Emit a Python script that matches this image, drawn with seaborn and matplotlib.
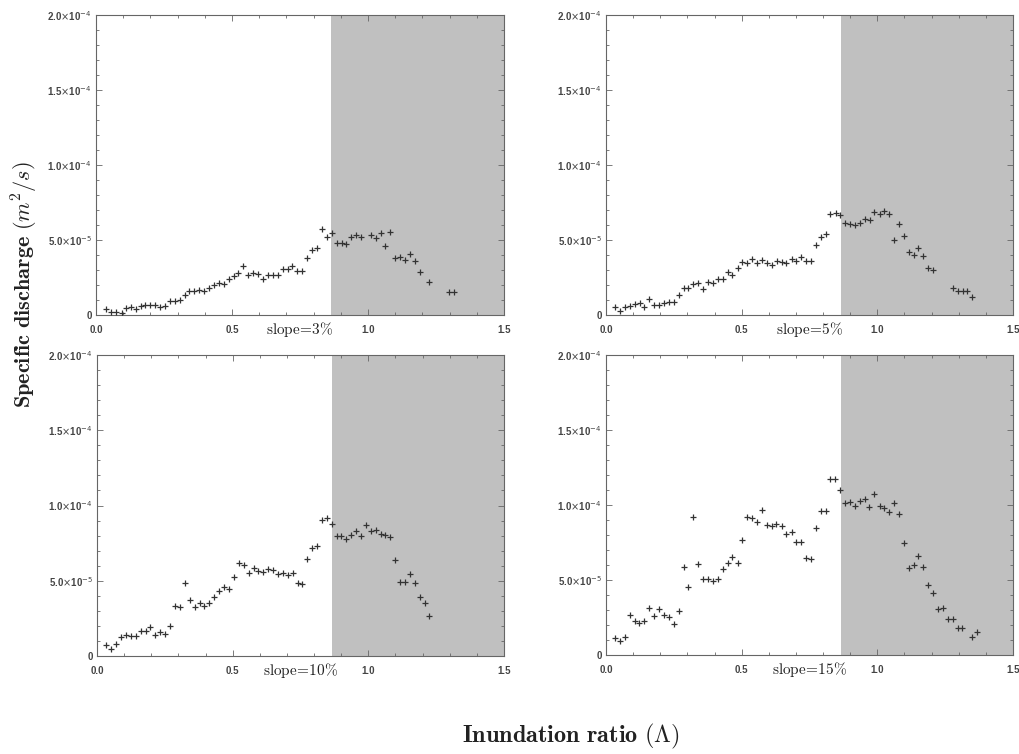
import numpy as np
import pandas as pd
import seaborn as sns
import matplotlib.pyplot as plt
from matplotlib.ticker import MultipleLocator

# values; discharge in units of 1e-5 m^2/s
x_s3 = [0.037, 0.055, 0.074, 0.094, 0.110, 0.129, 0.146, 0.164, 0.181, 0.199, 0.217, 0.235,
        0.254, 0.271, 0.289, 0.308, 0.326, 0.343, 0.362, 0.380, 0.397, 0.415, 0.434, 0.452,
        0.469, 0.488, 0.506, 0.523, 0.542, 0.560, 0.578, 0.597, 0.614, 0.632, 0.651, 0.669,
        0.686, 0.705, 0.722, 0.740, 0.757, 0.776, 0.794, 0.812, 0.830, 0.848, 0.866, 0.885,
        0.903, 0.920, 0.939, 0.956, 0.974, 1.011, 1.028, 1.046, 1.064, 1.082, 1.100, 1.119,
        1.136, 1.154, 1.173, 1.190, 1.226, 1.298, 1.316]
q_s3 = [0.38, 0.22, 0.18, 0.11, 0.49, 0.53, 0.42, 0.62, 0.67, 0.69, 0.64, 0.51,
        0.60, 0.93, 0.96, 1.02, 1.31, 1.58, 1.60, 1.67, 1.62, 1.78, 2.00, 2.13,
        2.09, 2.40, 2.60, 2.82, 3.24, 2.67, 2.78, 2.73, 2.38, 2.67, 2.67, 2.67,
        3.04, 3.07, 3.27, 2.96, 2.96, 3.82, 4.31, 4.49, 5.73, 5.22, 5.49, 4.82,
        4.82, 4.76, 5.22, 5.33, 5.18, 5.33, 5.11, 5.49, 4.58, 5.56, 3.78, 3.89,
        3.67, 4.07, 3.60, 2.89, 2.20, 1.51, 1.51]

x_s5 = [0.033, 0.052, 0.070, 0.088, 0.107, 0.124, 0.141, 0.160, 0.177, 0.195, 0.214, 0.231,
        0.249, 0.268, 0.286, 0.304, 0.322, 0.340, 0.358, 0.376, 0.394, 0.412, 0.431, 0.448,
        0.466, 0.485, 0.503, 0.520, 0.539, 0.557, 0.576, 0.593, 0.611, 0.630, 0.648, 0.665,
        0.684, 0.702, 0.719, 0.738, 0.755, 0.773, 0.792, 0.810, 0.827, 0.846, 0.864, 0.881,
        0.900, 0.918, 0.935, 0.954, 0.972, 0.989, 1.008, 1.026, 1.043, 1.062, 1.080, 1.097,
        1.116, 1.134, 1.151, 1.170, 1.188, 1.205, 1.278, 1.296, 1.315, 1.332, 1.350]
q_s5 = [0.51, 0.29, 0.53, 0.58, 0.71, 0.80, 0.56, 1.07, 0.64, 0.64, 0.82, 0.87,
        0.87, 1.36, 1.78, 1.78, 2.04, 2.11, 1.76, 2.22, 2.16, 2.38, 2.38, 2.89,
        2.69, 3.11, 3.51, 3.44, 3.73, 3.44, 3.64, 3.44, 3.31, 3.58, 3.56, 3.47,
        3.73, 3.62, 3.89, 3.58, 3.58, 4.67, 5.22, 5.38, 6.71, 6.80, 6.69, 6.11,
        6.07, 6.00, 6.13, 6.40, 6.33, 6.87, 6.76, 6.93, 6.76, 5.02, 6.04, 5.27,
        4.20, 4.00, 4.47, 3.91, 3.13, 2.98, 1.78, 1.58, 1.60, 1.62, 1.18]

x_s10 = [0.034, 0.053, 0.071, 0.088, 0.107, 0.124, 0.142, 0.161, 0.179, 0.196, 0.215, 0.233,
         0.252, 0.269, 0.287, 0.306, 0.324, 0.342, 0.360, 0.378, 0.396, 0.414, 0.432, 0.450,
         0.468, 0.486, 0.504, 0.523, 0.540, 0.559, 0.577, 0.595, 0.613, 0.631, 0.649, 0.667,
         0.685, 0.703, 0.721, 0.739, 0.757, 0.775, 0.793, 0.811, 0.829, 0.847, 0.865, 0.883,
         0.901, 0.918, 0.937, 0.955, 0.973, 0.991, 1.009, 1.027, 1.045, 1.063, 1.081, 1.099,
         1.117, 1.135, 1.154, 1.171, 1.189, 1.208, 1.225]
q_s10 = [0.74, 0.45, 0.79, 1.28, 1.37, 1.35, 1.30, 1.69, 1.69, 1.93, 1.42, 1.62,
         1.44, 2.02, 3.35, 3.26, 4.88, 3.75, 3.24, 3.55, 3.35, 3.51, 3.89, 4.29,
         4.56, 4.47, 5.26, 6.20, 6.07, 5.53, 5.84, 5.64, 5.60, 5.78, 5.71, 5.46,
         5.53, 5.35, 5.51, 4.88, 4.81, 6.43, 7.19, 7.30, 9.01, 9.17, 8.74, 8.00,
         8.00, 7.80, 8.02, 8.29, 8.00, 8.70, 8.29, 8.36, 8.09, 8.02, 7.91, 6.36,
         4.94, 4.94, 5.46, 4.83, 3.89, 3.53, 2.65]

x_s15 = [0.033, 0.052, 0.070, 0.087, 0.106, 0.123, 0.141, 0.158, 0.177, 0.195, 0.214, 0.232,
         0.249, 0.268, 0.286, 0.303, 0.322, 0.340, 0.358, 0.376, 0.394, 0.412, 0.430, 0.448,
         0.466, 0.485, 0.502, 0.520, 0.539, 0.556, 0.574, 0.593, 0.611, 0.628, 0.647, 0.665,
         0.684, 0.701, 0.719, 0.737, 0.755, 0.773, 0.791, 0.809, 0.827, 0.845, 0.863, 0.881,
         0.900, 0.917, 0.935, 0.954, 0.971, 0.989, 1.008, 1.025, 1.043, 1.062, 1.079, 1.097,
         1.116, 1.134, 1.151, 1.170, 1.188, 1.205, 1.224, 1.242, 1.259, 1.278, 1.296, 1.313,
         1.350, 1.369]
q_s15 = [1.11, 0.96, 1.20, 2.69, 2.24, 2.13, 2.27, 3.16, 2.60, 3.04, 2.64, 2.51,
         2.09, 2.96, 5.84, 4.53, 9.18, 6.04, 5.07, 5.07, 4.93, 5.04, 5.76, 6.11,
         6.53, 6.16, 7.69, 9.20, 9.11, 8.84, 9.67, 8.69, 8.58, 8.71, 8.62, 8.07,
         8.20, 7.56, 7.56, 6.47, 6.38, 8.44, 9.60, 9.58, 11.73, 11.73, 11.00, 10.16,
         10.22, 9.91, 10.27, 10.38, 9.87, 10.71, 9.91, 9.78, 9.56, 10.13, 9.40, 7.47,
         5.78, 6.00, 6.58, 5.84, 4.67, 4.13, 3.04, 3.11, 2.40, 2.42, 1.82, 1.82,
         1.22, 1.51]

slopes = ["3", "5", "10", "15"]
shade_from = 0.865
x_ticks = [0.0, 0.5, 1.0, 1.5]
x_tick_labels = ["0.0", "0.5", "1.0", "1.5"]
y_ticks = [0, 5e-5, 1e-4, 1.5e-4, 2e-4]
y_tick_labels = ["0", r"5.0$\times$10$^{-5}$", r"1.0$\times$10$^{-4}$",
                 r"1.5$\times$10$^{-4}$", r"2.0$\times$10$^{-4}$"]

frames = []
for s, xs, qs in zip(slopes, [x_s3, x_s5, x_s10, x_s15], [q_s3, q_s5, q_s10, q_s15]):
    frames.append(pd.DataFrame({"slope": s, "ratio": xs, "q": np.array(qs) * 1e-5}))
df = pd.concat(frames, ignore_index=True)

sns.set_style("ticks")
plt.rcParams["mathtext.fontset"] = "cm"
tick_font = ["Liberation Sans", "DejaVu Sans"]
tick_kw = dict(family=tick_font, fontsize=7, fontweight="bold", color="#444444",
               math_fontfamily="dejavusans")

fig = plt.figure(figsize=(10.2, 7.54), dpi=100)
W, H = 1020, 754
# panel boxes in pixels: left, top, right, bottom
boxes = [(96, 15, 504, 315), (606, 15, 1013, 315),
         (97, 355, 504, 656), (606, 355, 1013, 655)]

for s, (l, t, r, b) in zip(slopes, boxes):
    ax = fig.add_axes([l / W, 1 - b / H, (r - l) / W, (b - t) / H])
    ax.axvspan(shade_from, 1.5, color="#c0c0c0", lw=0, zorder=0)
    sns.scatterplot(data=df[df["slope"] == s], x="ratio", y="q", marker="+",
                    color="#333333", s=16, linewidth=0.9, ax=ax, zorder=3)
    ax.set_xlim(0, 1.5)
    ax.set_ylim(0, 2e-4)
    ax.set_xticks(x_ticks)
    ax.set_xticklabels(x_tick_labels, **tick_kw)
    ax.set_yticks(y_ticks)
    ax.set_yticklabels(y_tick_labels, **tick_kw)
    ax.xaxis.set_minor_locator(MultipleLocator(0.1))
    ax.yaxis.set_minor_locator(MultipleLocator(1e-5))
    ax.tick_params(which="both", direction="in", top=True, right=True, color="#666666",
                   width=0.6)
    ax.tick_params(which="major", length=4)
    ax.tick_params(which="minor", length=2.5)
    ax.tick_params(axis="x", which="major", pad=7)
    ax.tick_params(axis="y", which="major", pad=3)
    for sp in ax.spines.values():
        sp.set_color("#666666")
        sp.set_linewidth(0.8)
    ax.set_xlabel("")
    ax.set_ylabel("")
    ax.text(0.5, -0.018, r"$\mathrm{slope}\!=\!" + s + r"\%$",
            transform=ax.transAxes, ha="center", va="top", fontsize=11, color="#222222")

fig.text(571 / W, 1 - 736 / H, r"$\mathbf{Inundation\ ratio\ (\Lambda)}$",
         ha="center", va="center", fontsize=17.5, color="#222222")
fig.text(25 / W, 1 - 285 / H, r"$\mathbf{Specific\ discharge\ (}m^2/s\mathbf{)}$",
         ha="center", va="center", rotation=90, fontsize=16, color="#222222")

fig.savefig("out.png", dpi=100)
